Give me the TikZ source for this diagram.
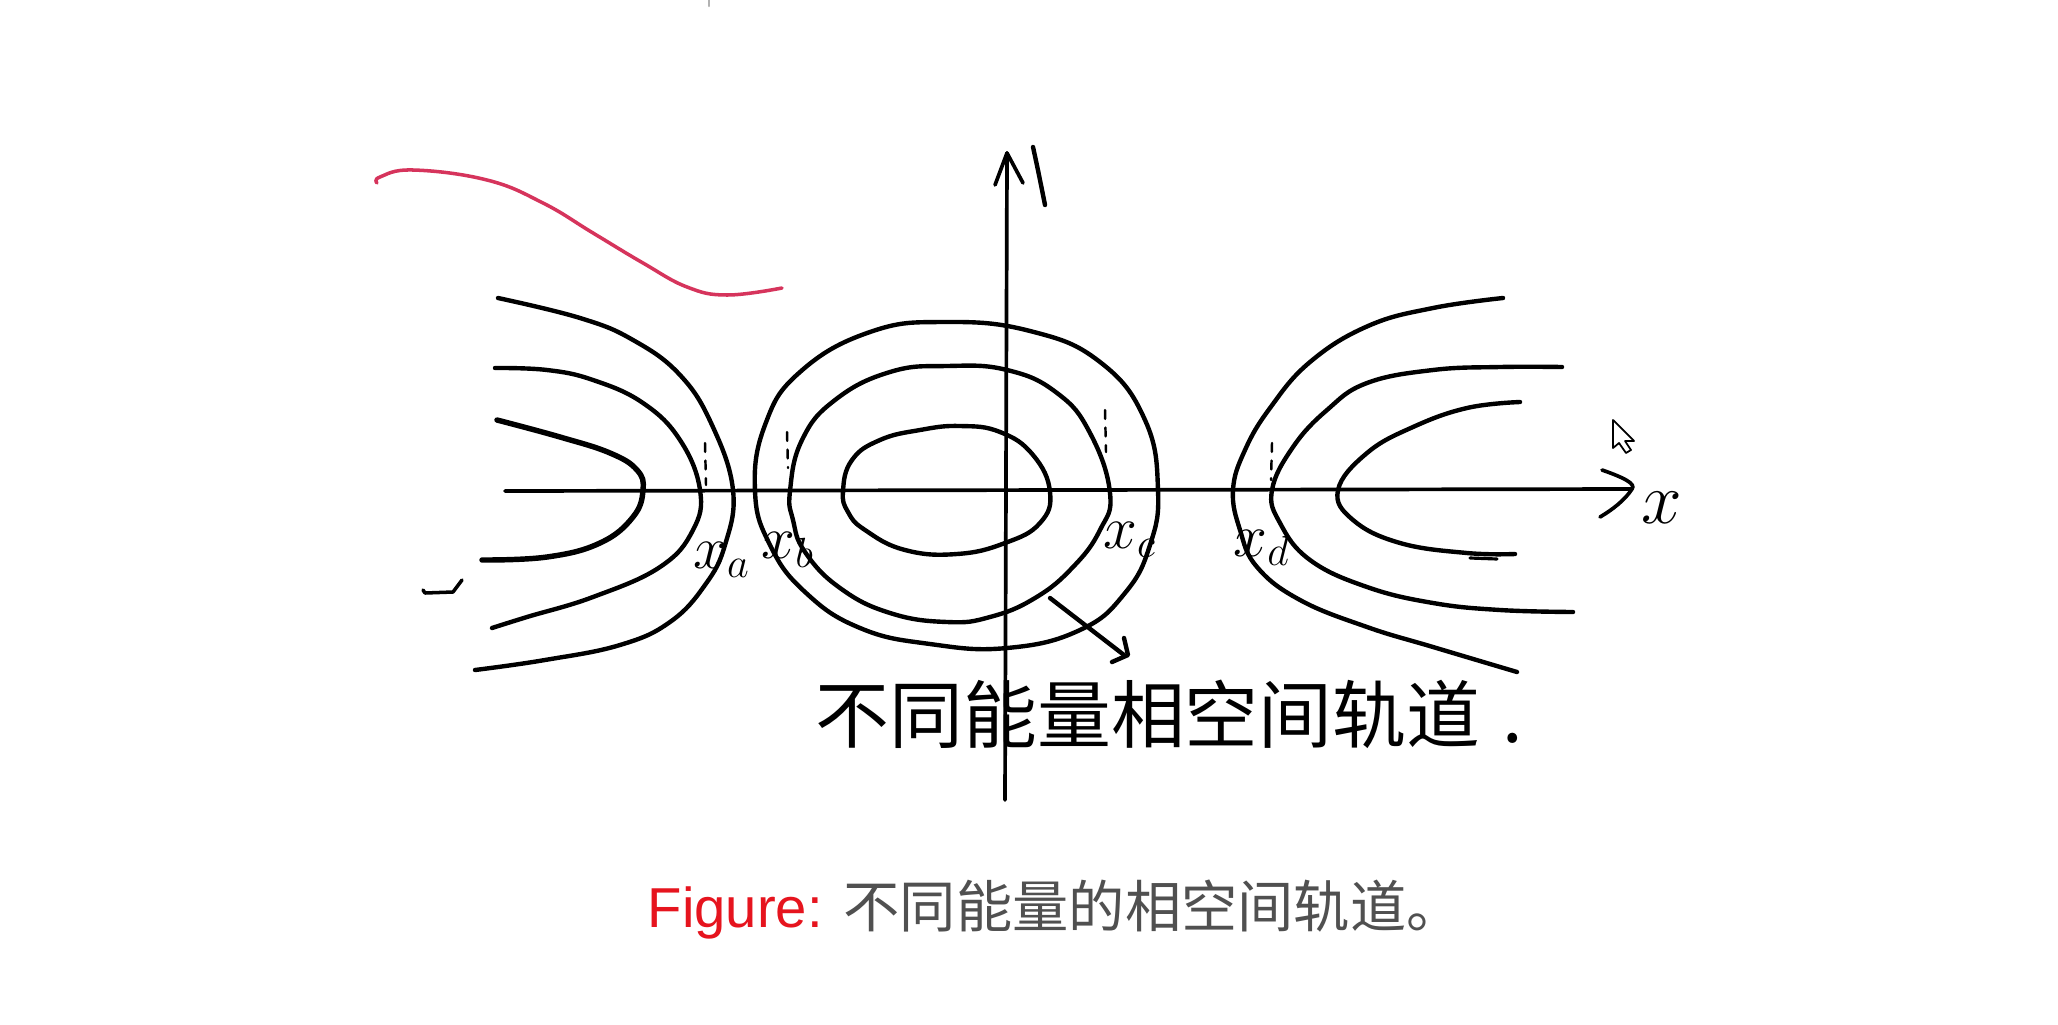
\documentclass[tikz,border=0pt]{standalone}
\usepackage{fontspec}
\setmainfont{Liberation Sans}
\newfontfamily\cjk{Noto Sans CJK SC}
\definecolor{figred}{RGB}{230,20,30}
\definecolor{capgray}{RGB}{80,80,80}
\definecolor{penred}{RGB}{214,52,92}
\begin{document}
\begin{tikzpicture}[x=0.01cm,y=-0.01cm,line cap=round,line join=round,
  pen/.style={line width=1.25pt,black},
  thickpen/.style={line width=1.55pt,black},
  axisline/.style={line width=1.05pt,black},
  dotmark/.style={line width=0.7pt,dash pattern=on 2.5pt off 2.5pt},
  lbl/.style={font=\fontsize{18}{21}\selectfont,inner sep=0pt},
  hand/.style={font=\cjk\fontsize{21}{24}\selectfont,inner sep=0pt,anchor=base west},
  caption/.style={inner sep=0pt,anchor=base west,text=capgray,font=\fontsize{16}{19}\selectfont}]
\fill[white] (0,0) rectangle (2058,1024);
\useasboundingbox (0,0) rectangle (2058,1024);

% speck at top
\draw[line width=0.6pt,gray!60] (709,0) -- (709,6);

% axes
\coordinate (xstart) at (505,491);
\coordinate (xtip) at (1632,489);
\coordinate (ystart) at (1005,800);
\coordinate (ytip) at (1007,153);
\draw[axisline] (xstart) -- (xtip);
\draw[axisline] (1602,470) .. controls (1625,478) and (1636,484) .. (xtip) .. controls (1625,500) and (1612,510) .. (1600,517);
\draw[axisline] (ystart) -- (ytip);
\draw[axisline] (995,185) -- (ytip) -- (1023,183);
\draw[pen] (1033,147) .. controls (1038,170) .. (1045,205);
\node[lbl,font=\fontsize{22}{26}\selectfont] (xlab) at (1662,508) {$x$};

% red stroke
\draw[penred,line width=1pt] plot[smooth,tension=0.7] coordinates {(377,183) (380,177) (413,170) (487,180) (543,203) (593,233) (643,263) (687,287) (727,295) (782,288)};

% left open curves
\draw[thickpen] plot[smooth,tension=0.7] coordinates {(497,420) (560,437) (610,453) (637,470) (643,490) (633,517) (600,543) (547,557) (482,560)};
\draw[pen] plot[smooth,tension=0.7] coordinates {(495,368) (547,370) (593,380) (643,403) (680,440) (700,490) (693,530) (660,567) (593,597) (527,617) (492,628)};
\draw[pen] plot[smooth,tension=0.7] coordinates {(498,298) (580,318) (633,340) (680,375) (712,425) (733,490) (725,545) (705,585) (670,622) (620,645) (545,660) (475,670)};
\draw[pen,line width=1pt] (423,590) -- (425,593) -- (453,592) -- (462,580);

% closed orbits
\draw[pen] plot[smooth cycle,tension=0.75] coordinates {(843,491) (852,460) (880,440) (920,430) (960,426) (1000,432) (1033,455) (1050,492) (1040,523) (1005,543) (957,554) (905,550) (865,530) (848,512)};
\draw[pen] plot[smooth cycle,tension=0.75] coordinates {(790,491) (802,440) (835,400) (890,372) (947,366) (1007,370) (1057,393) (1090,433) (1110,493) (1100,530) (1073,567) (1035,598) (990,617) (947,622) (890,613) (840,588) (805,552) (793,520)};
\draw[pen] plot[smooth cycle,tension=0.75] coordinates {(755,491) (765,425) (800,372) (870,332) (945,322) (1030,331) (1100,362) (1145,420) (1158,490) (1150,545) (1125,593) (1080,630) (1007,648) (930,644) (860,628) (805,592) (770,545)};

% right open curves
\draw[pen] plot[smooth,tension=0.7] coordinates {(1503,298) (1433,308) (1368,326) (1310,362) (1270,408) (1245,450) (1233,490) (1240,530) (1257,567) (1300,600) (1367,627) (1433,647) (1517,672)};
\draw[pen] plot[smooth,tension=0.7] coordinates {(1562,367) (1500,367) (1433,370) (1367,383) (1327,410) (1293,447) (1272,490) (1280,523) (1310,560) (1367,587) (1433,603) (1500,610) (1573,612)};
\draw[pen] plot[smooth,tension=0.7] coordinates {(1520,402) (1467,408) (1413,427) (1367,453) (1338,490) (1353,520) (1400,543) (1467,553) (1515,554)};
\draw[pen,line width=0.9pt] (1470,558) -- (1497,559);

% dotted marks near the turning points
\draw[dotmark] (705,443) -- (706,485);
\draw[dotmark] (787,432) -- (788,468);
\draw[dotmark] (1105,410) -- (1106,452);
\draw[dotmark] (1272,443) -- (1271,480);

% turning point labels
\node[lbl] (xa) at (722,560) {$x_a$};
\node[lbl] (xb) at (788,550) {$x_b$};
\node[lbl] (xc) at (1130,540) {$x_c$};
\node[lbl] (xd) at (1262,548) {$x_d$};

% handwritten note with arrow
\node[hand] (note) at (815,742) {不同能量相空间轨道\hspace{0.3em}.};
\coordinate (arrA) at (1050,598);
\coordinate (arrB) at (1124,655);
\draw[pen] (arrA) -- (arrB);
\draw[pen] (1124,638) -- (1128,655) -- (1112,662);

% mouse cursor
\draw[black,line width=0.5pt,fill=white] (1613,420) -- (1613,448) -- (1619,443) -- (1626,453) -- (1631,450) -- (1625,441) -- (1634,441) -- cycle;

% caption
\node[caption] (cap) at (647,927) {\textcolor{figred}{Figure:} {\cjk 不同能量的相空间轨道。}};
\end{tikzpicture}
\end{document}
